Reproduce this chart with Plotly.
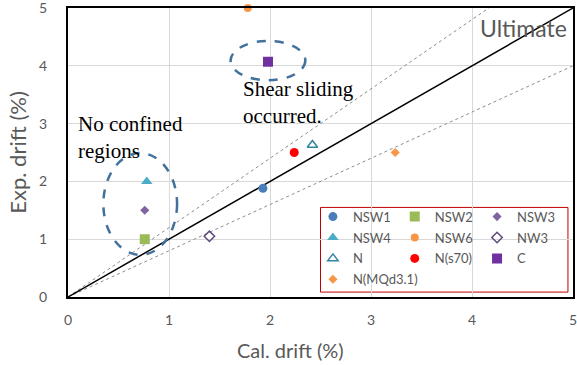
import plotly.graph_objects as go

series_names = ["NSW1", "NSW2", "NSW3", "NSW4", "NSW6", "NW3", "N", "N(s70)", "C", "N(MQd3.1)"]
cal_drift = [1.93, 0.76, 0.76, 0.78, 1.78, 1.40, 2.42, 2.24, 1.98, 3.24]
exp_drift = [1.88, 1.00, 1.50, 2.00, 5.00, 1.05, 2.63, 2.50, 4.07, 2.50]
symbols = ["circle", "square", "diamond", "triangle-up", "circle", "diamond-open",
           "triangle-up-open", "circle", "square", "diamond"]
colors = ["#4A7EBB", "#9BBB59", "#8064A2", "#4BACC6", "#F79646", "#604A7B",
          "#31859C", "#FF0000", "#7030A0", "#F79646"]
sizes = [9, 10, 7, 10, 8, 8, 9, 9, 10, 7]
legend_ids = ["legend", "legend2", "legend3", "legend", "legend2", "legend3",
              "legend", "legend2", "legend3", "legend"]
tick_vals = [0, 1, 2, 3, 4, 5]

ref_x = [0, 5]
ref_y = [0, 5]
upper_x = [0, 5 / 1.2]
upper_y = [0, 5]
lower_x = [0, 5]
lower_y = [0, 4]

fig = go.Figure()
fig.add_trace(go.Scatter(x=upper_x, y=upper_y, mode="lines", showlegend=False,
                         line=dict(color="#8C8C8C", width=1, dash="dot"), hoverinfo="skip"))
fig.add_trace(go.Scatter(x=lower_x, y=lower_y, mode="lines", showlegend=False,
                         line=dict(color="#8C8C8C", width=1, dash="dot"), hoverinfo="skip"))
fig.add_trace(go.Scatter(x=ref_x, y=ref_y, mode="lines", showlegend=False,
                         line=dict(color="black", width=1.5), hoverinfo="skip"))

for n, xv, yv, s, c, sz, lg in zip(series_names, cal_drift, exp_drift, symbols, colors, sizes, legend_ids):
    fig.add_trace(go.Scatter(x=[xv], y=[yv], mode="markers", name=n, legend=lg, legendgroup=n,
                             marker=dict(symbol=s, color=c, size=sz,
                                         line=dict(color=c, width=1.5 if "open" in s else 0)),
                             cliponaxis=False))

ell_line = dict(color="#41719C", width=2.5, dash="dash")
fig.add_shape(type="circle", xref="x", yref="y", x0=1.61, x1=2.35, y0=3.75, y1=4.43, line=ell_line)
fig.add_shape(type="circle", xref="x", yref="y", x0=0.35, x1=1.08, y0=0.73, y1=2.49, line=ell_line)

# legend frame
fig.add_shape(type="rect", xref="paper", yref="paper", x0=0.50, x1=0.99, y0=0.017, y1=0.31,
              line=dict(color="#C00000", width=1), fillcolor="white", layer="below")

serif = dict(family="Liberation Serif", size=21, color="black")
fig.add_annotation(x=1.71, y=3.36, xref="x", yref="y", text="Shear sliding<br>occurred.",
                   showarrow=False, xanchor="left", yanchor="middle", align="left", font=serif)
fig.add_annotation(x=0.08, y=2.76, xref="x", yref="y", text="No confined<br>regions",
                   showarrow=False, xanchor="left", yanchor="middle", align="left", font=serif)
fig.add_annotation(x=4.96, y=4.65, xref="x", yref="y", text="Ultimate", showarrow=False,
                   xanchor="right", yanchor="middle",
                   font=dict(family="Lato", size=23, color="#595959"))
fig.add_annotation(x=0.44, y=-0.183, xref="paper", yref="paper", text="Cal. drift (%)",
                   showarrow=False, xanchor="center", yanchor="middle",
                   font=dict(family="Lato", size=20, color="#595959"))

leg_common = dict(bgcolor="rgba(0,0,0,0)", borderwidth=0, orientation="v",
                  font=dict(family="Lato", size=13, color="#595959"),
                  xanchor="left", yanchor="top", itemwidth=30, tracegroupgap=1)
fig.update_layout(
    legend=dict(x=0.485, y=0.33, **leg_common),
    legend2=dict(x=0.647, y=0.33, **leg_common),
    legend3=dict(x=0.81, y=0.33, **leg_common),
)

axis_common = dict(range=[0, 5], tickvals=tick_vals, showgrid=True, gridcolor="#D9D9D9", gridwidth=1,
                   showline=True, linecolor="black", linewidth=2, mirror=True, zeroline=False,
                   tickfont=dict(family="Lato", size=14, color="#595959"), ticks="",
                   ticklabeloverflow="allow", automargin=False)
fig.update_xaxes(ticklabelstandoff=9, **axis_common)
fig.update_yaxes(title_text="Exp. drift (%)", ticklabelstandoff=16, title_standoff=6,
                 title_font=dict(family="Lato", size=22, color="#595959"), **axis_common)

fig.update_layout(width=577, height=365, margin=dict(l=68, r=4, t=8, b=68),
                  plot_bgcolor="white", paper_bgcolor="white", showlegend=True)

fig.write_html("out.html")
